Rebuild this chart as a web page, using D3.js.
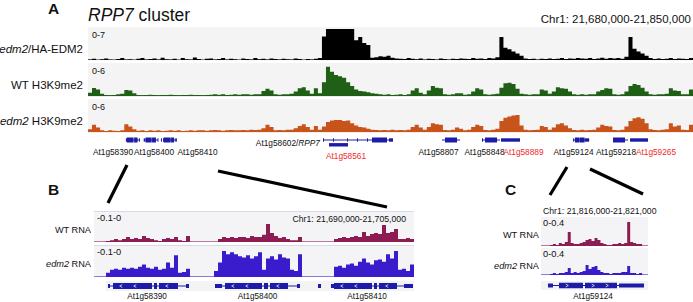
<!DOCTYPE html>
<html><head><meta charset="utf-8">
<script src="https://cdn.jsdelivr.net/npm/d3@7/dist/d3.min.js"></script>
<style>html,body{margin:0;padding:0;background:#fff}svg{display:block}text{white-space:pre}</style>
</head><body>
<svg id="fig" width="693" height="302"></svg>
<script>
// ================= DATA =================
const regionA = [21680000, 21850000];
const regionB = [21690000, 21705000];
const regionC = [21816000, 21821000];
const coordLabelA = "Chr1: 21,680,000-21,850,000";
const coordLabelB = "Chr1: 21,690,000-21,705,000";
const coordLabelC = "Chr1: 21,816,000-21,821,000";

// Panel A: ChIP coverage, 150 bins over regionA (value per bin)
const binsA = 150;
const trackNamesA = ["edm2/HA-EDM2", "WT H3K9me2", "edm2 H3K9me2"];
const trackMaxA = [7, 6, 6];
const rangeLabelsA = ["0-7", "0-6", "0-6"];
const edm2HA = [
 0.1,0.25,0.05,0.15,0.3,0.1,0.05,0.2,0.4,0.1,
 0.15,0.05,0.25,0.45,0.1,0.2,0.3,0.1,0.5,0.15,
 0.1,0.25,0.05,0.4,0.15,0.1,0.55,0.2,0.05,0.25,
 0.3,0.1,0.2,0.45,0.1,0.25,0.15,0.05,0.3,0.2,
 0.1,0.4,0.15,0.25,0.1,0.3,0.2,0.1,0.25,0.15,
 0.1,0.3,0.2,0.05,0.2,0.1,0.25,0.4,
 5.0,6.6,6.6,6.6,6.6,6.6,6.6,6.6,4.2,4.9,3.6,3.2,0.5,
 0.6,0.8,0.7,0.9,0.5,0.3,0.25,0.2,0.4,
 0.25,0.15,0.3,0.1,0.25,0.2,0.1,0.3,0.2,0.1,
 0.25,0.2,0.3,0.25,0.2,0.4,0.25,0.3,0.2,0.45,
 0.3,0.6,4.9,2.6,2.3,1.8,1.4,0.9,0.3,0.2,
 0.25,0.1,0.25,0.2,0.3,0.2,0.25,0.4,0.2,0.3,
 0.25,0.45,0.3,0.25,0.4,0.2,0.3,0.5,0.25,0.4,
 0.3,0.45,0.25,0.7,4.9,2.4,1.8,1.4,0.9,0.4,
 0.2,0.3,0.2,0.25,0.4,0.2,0.3,0.25,0.2,0.4,0.25];
const wtH3K9 = [
 0.6,1.45,1.2,0.4, 0.2,0.15,0.2,0.3, 0.4,1.1,1.0,0.5,
 0.2,0.15,0.2,0.25,0.2,0.15,0.2,0.2,0.25,0.2,
 0.15,0.2,0.2,0.25,0.2,0.2,0.15,0.2,0.25,0.3,
 0.25,0.3,0.2,0.25,0.3,0.25,0.3,0.3,0.25,0.3,0.3,
 0.9,1.3,1.0,0.3,0.25,0.3,0.3,0.4,
 0.8,1.4,1.6,1.0,0.4,1.4,0.5,
 2.5,5.3,4.4,3.8,3.6,3.3,2.5,1.8,1.2,0.9,0.8,0.7,0.5,0.4,
 0.3,0.25,0.3,0.2,0.25,0.3,0.2,0.3,1.0,1.4,0.6,0.3,
 1.0,1.8,1.5,1.4,0.3,0.25,0.3,0.5,0.5,0.25,0.3,
 0.8,1.4,1.2,0.3,0.25,0.3,0.4,
 1.5,2.3,2.4,2.2,1.3,0.4,0.3,0.25,0.3,0.3,
 1.2,1.0,0.4,0.8,1.6,1.4,1.3,0.8,
 0.3,0.25,0.3,0.25,0.3,0.3,0.8,1.1,1.4,1.3,0.3,0.25,0.3,
 0.8,1.8,2.2,2.0,1.5,0.8,0.3,0.25,0.3,0.3,0.4,
 1.4,1.0,0.9,0.3,0.3,1.2,0.8];
const edm2H3K9 = [
 0.5,1.3,0.8,0.3, 0.2,0.3,0.25,0.2,0.3, 1.4,1.0,0.5,
 0.25,0.3,0.2,0.3,0.25,0.3,0.2,0.25,0.3,0.25,
 0.3,0.2,0.25,0.3,0.25,0.3,0.3,0.25,0.3,0.35,
 0.3,0.25,0.3,0.35,0.3,0.3,0.35,0.3,0.4,0.35,0.4,
 0.7,1.3,0.9,0.3,0.35,0.3,0.4,0.4,
 0.7,1.1,1.4,0.9,0.4,1.1,0.4,
 1.0,1.8,2.1,2.2,2.2,2.0,2.1,1.6,1.2,0.9,0.8,0.6,0.4,
 0.35,0.3,0.35,0.3,0.4,0.3,0.35,0.3,0.4,0.9,1.3,0.8,0.4,
 0.9,1.6,1.4,1.3,0.35,0.3,0.4,0.8,0.6,0.3,0.4,
 0.9,1.3,1.1,0.35,0.3,0.4,
 0.6,2.0,2.6,2.8,3.0,3.1,1.2,0.4,0.3,0.35,0.4,
 1.1,0.9,0.4,0.8,1.4,1.6,1.2,0.7,
 0.35,0.3,0.4,0.3,0.35,0.4,0.8,1.3,1.1,1.0,0.35,0.3,0.4,
 1.0,2.0,2.5,2.7,2.4,1.6,0.5,0.35,0.3,0.4,0.5,
 1.6,1.0,1.2,0.4,0.35,1.3,1.0];

// Panels B / C: RNA-seq coverage
const trackNamesRNA = ["WT RNA", "edm2 RNA"];
const rangeLabelsB = ["-0.1-0", "-0.1-0"];
const maxB = 0.1;
const wtRnaB = [
 0,0,0,0.003,0.006,0.010,0.006,0.010,0.016,0.010,
 0.013,0.010,0.019,0.013,0.010,0.006,0.003,0.010,0.013,0.010,
 0.016,0.006,0.003,0.019,0,0,0,0,0,0,
 0,0.010,0.016,0.013,0.016,0.013,0.016,0.016,0.013,0.019,
 0.016,0.016,0.023,0.058,0.029,0.019,0.013,0.016,0.010,0.006,
 0.006,0.016,0,0,0,0,0,0,0,0,
 0.010,0.013,0.016,0.013,0.016,0.019,0.016,0.032,0.019,0.026,
 0.029,0.026,0.055,0.029,0.032,0.042,0.010,0.010,0.013,0.010];
const edm2RnaB = [
 0,0,0,0.013,0.023,0.026,0.023,0.029,0.026,0.029,
 0.026,0.032,0.039,0.029,0.026,0.032,0.023,0.026,0.045,0.029,
 0.068,0.013,0.016,0.026,0,0,0,0,0,0,
 0.019,0.045,0.081,0.071,0.077,0.071,0.065,0.061,0.068,0.058,
 0.065,0.077,0.023,0.058,0.065,0.055,0.071,0.061,0.058,0.023,
 0.019,0.071,0,0,0,0,0,0,0,0,
 0.032,0.035,0.029,0.039,0.042,0.035,0.048,0.058,0.045,0.039,
 0.052,0.055,0.048,0.071,0.058,0.081,0.023,0.026,0.019,0.039];
const rangeLabelsC = ["0-0.4", "0-0.4"];
const maxC = 0.4;
const wtRnaC = [
 0,0,0,0.014,0.028,0.014,0.041,0.028,0.055,0.193,
 0.041,0.028,0.028,0.041,0.055,0.083,0.097,0.069,0.110,0.083,
 0.041,0.028,0.014,0.014,0.028,0.028,0.041,0.028,0.041,0.331,
 0.055,0.041,0.028,0.028,0,0];
const edm2RnaC = [
 0,0,0,0.015,0.030,0.015,0.030,0.030,0.044,0.104,
 0.030,0.044,0.030,0.044,0.059,0.148,0.089,0.119,0.133,0.074,
 0.044,0.030,0.030,0.015,0.030,0.030,0.030,0.044,0.044,0.133,
 0.030,0.030,0.015,0.030,0,0];

// Gene annotation (genomic coordinates); exon type: cds / utr
const geneNames = ["At1g58390","At1g58400","","At1g58410","At1g58602/RPP7","At1g58561",
  "At1g58807","At1g58848","At1g58889","At1g59124","At1g59218","At1g59265"];
const geneStrand = ["-","-","-","-","+","+","+","+","+","+","+","+"];
const geneSpan = [
 [21690656,21694453],[21695672,21699656],[21700500,21700641],[21701109,21704953],
 [21746035,21765705],[21747721,21753060],[21779474,21784532],[21790714,21795772],
 [21796053,21801392],[21816327,21820813],[21827525,21831740],[21832302,21837360]];
const geneExons = [
 [[21690656,21690750,"utr"],[21690891,21692719,"cds"],[21692813,21692953,"cds"],[21693047,21693938,"cds"],[21694313,21694453,"utr"]],
 [[21695672,21696000,"utr"],[21696141,21697875,"cds"],[21697969,21698156,"cds"],[21698250,21699094,"cds"],[21699516,21699656,"utr"]],
 [[21700500,21700641,"utr"]],
 [[21701109,21701250,"utr"],[21701250,21703031,"cds"],[21703125,21703266,"cds"],[21703359,21704203,"cds"],[21704531,21704953,"utr"]],
 [[21746035,21746316,"utr"],[21748845,21749126,"utr"],[21752779,21753060,"utr"],[21755589,21755870,"utr"],[21758399,21758680,"utr"],[21759804,21764019,"cds"],[21764581,21765705,"utr"]],
 [[21747721,21753060,"utr"]],
 [[21780317,21783689,"cds"]],
 [[21790714,21790995,"utr"],[21791557,21794929,"cds"]],
 [[21796053,21801392,"utr"]],
 [[21816327,21816561,"utr"],[21816841,21817963,"cds"],[21818056,21819551,"cds"],[21819645,21820813,"utr"]],
 [[21827525,21830897,"cds"]],
 [[21832302,21837360,"utr"]]];
const highlightedGenes = ["At1g58561","At1g58889","At1g59265"];
const lowerRowGenes = ["At1g58561"];

// ================= LAYOUT =================
const FONT = '"Liberation Sans", Arial, Helvetica, sans-serif';
const BLUE = "#1c1ca8";
const RED = "#f02a2a";
const colA = ["#000000", "#1f5f16", "#c8531b"];
const colRNA = ["#8c1c52", "#3a1ccc"];
const A = {x0: 88, x1: 693, tracks: [[27,60],[63,96],[99,132]], geneY: 140, geneY2: 144.8};
const B = {x0: 94, x1: 414, tracks: [[211,242],[245,277]], geneRow: [281,291], geneY: 286};
const C = {x0: 541, x1: 648, tracks: [[217,246],[248,275]], geneRow: [281,290], geneY: 285.5};
const labelLayoutA = {
 "At1g58390":[113,154.5,"middle"], "At1g58400":[154,154.5,"middle"], "At1g58410":[197.5,154.5,"middle"],
 "At1g58602/RPP7":[320,146,"end"], "At1g58561":[346,158.5,"middle"],
 "At1g58807":[438.5,154.5,"middle"], "At1g58848":[484.5,154.5,"middle"], "At1g58889":[523.5,154.5,"middle"],
 "At1g59124":[573.5,154.5,"middle"], "At1g59218":[616,154.5,"middle"], "At1g59265":[656,154.5,"middle"]};
const labelLayoutB = {"At1g58390":147, "At1g58400":257.5, "At1g58410":367};

const svg = d3.select("#fig");
const defs = svg.append("defs");

function rich(sel, str) {
  const m = str.match(/^(edm2)(.*)$/);
  if (m) { sel.append("tspan").attr("font-style","italic").text(m[1]); sel.append("tspan").text(m[2]); return sel; }
  const r = str.match(/^(.*\/)(RPP7)$/);
  if (r) { sel.append("tspan").text(r[1]); sel.append("tspan").attr("font-style","italic").text(r[2]); return sel; }
  sel.text(str); return sel;
}
function txt(x, y, str, size, opts = {}) {
  const t = svg.append("text").attr("x", x).attr("y", y).attr("font-family", FONT)
    .attr("font-size", size).attr("fill", opts.fill || "#111")
    .attr("text-anchor", opts.anchor || "start");
  if (opts.weight) t.attr("font-weight", opts.weight);
  return rich(t, str);
}
let clipN = 0;
function clipRect(x0, x1, y0, y1) {
  const id = "cl" + (clipN++);
  defs.append("clipPath").attr("id", id).append("rect").attr("x", x0).attr("y", y0).attr("width", x1 - x0).attr("height", y1 - y0);
  return "url(#" + id + ")";
}
function coverage(values, nBins, region, xs, top, bottom, max, color, x0, x1) {
  const bp = (region[1] - region[0]) / nBins;
  const y = d3.scaleLinear().domain([0, max]).range([bottom, top]).clamp(true);
  const pts = values.map((v, i) => [region[0] + i * bp, v]);
  pts.push([region[0] + values.length * bp, values[values.length - 1]]);
  const area = d3.area().x(d => xs(d[0])).y0(bottom).y1(d => y(d[1])).curve(d3.curveStepAfter);
  svg.append("path").datum(pts).attr("d", area).attr("fill", color)
    .attr("clip-path", clipRect(x0, x1, top - 1, bottom + 1));
}
function drawGenes(xs, x0, x1, cy, hCds, hUtr, chevrons, onlyNames, cy2) {
  const g = svg.append("g").attr("clip-path", clipRect(x0, x1, cy - 10, cy + 12));
  geneNames.forEach((name, gi) => {
    if (onlyNames && !onlyNames.includes(name)) return;
    const yC = (cy2 && lowerRowGenes.includes(name)) ? cy2 : cy;
    const sp = geneSpan[gi];
    g.append("line").attr("x1", xs(sp[0])).attr("x2", xs(sp[1])).attr("y1", yC).attr("y2", yC)
      .attr("stroke", BLUE).attr("stroke-width", 1);
    geneExons[gi].forEach(e => {
      const h = e[2] === "cds" ? hCds : hUtr;
      const a = xs(e[0]), b = xs(e[1]);
      g.append("rect").attr("x", a).attr("y", yC - h / 2).attr("width", Math.max(1, b - a)).attr("height", h).attr("fill", BLUE);
      if (chevrons && e[2] === "cds" && b - a > 12) {
        for (let cx = a + 8; cx < b - 4; cx += 14) {
          const d = geneStrand[gi] === "-" ? 1 : -1;
          g.append("path").attr("d", `M${cx + d * 1.3},${yC - 1.5}L${cx - d * 1.3},${yC}L${cx + d * 1.3},${yC + 1.5}`)
            .attr("fill", "none").attr("stroke", "#fff").attr("stroke-width", 0.7);
        }
      }
    });
  });
}

// ================= PANEL A =================
txt(48, 14, "A", 15.5, {weight: "bold"});
{
  const t = svg.append("text").attr("x", 88).attr("y", 20.5).attr("font-family", FONT).attr("font-size", 17.5).attr("fill", "#111");
  t.append("tspan").attr("font-style", "italic").text("RPP7");
  t.append("tspan").text(" cluster");
}
txt(691, 23, coordLabelA, 11.5, {anchor: "end"});
const xA = d3.scaleLinear().domain(regionA).range([A.x0, A.x1]);
const seriesA = [edm2HA, wtH3K9, edm2H3K9];
A.tracks.forEach(([top, bottom], i) => {
  svg.append("rect").attr("x", A.x0).attr("y", top).attr("width", A.x1 - A.x0).attr("height", bottom - top + 0.5).attr("fill", "#f4f4f4");
  svg.append("line").attr("x1", A.x0).attr("x2", A.x1).attr("y1", bottom - 0.4).attr("y2", bottom - 0.4)
    .attr("stroke", colA[i]).attr("stroke-width", i === 0 ? 0.5 : 0.8).attr("opacity", i === 0 ? 0.6 : 1);
  coverage(seriesA[i], binsA, regionA, xA, top, bottom, trackMaxA[i], colA[i], A.x0, A.x1);
  txt(A.x0 + 4, top + 11, rangeLabelsA[i], 9);
  txt(83, bottom - 7.5, trackNamesA[i], 11.5, {anchor: "end"});
});
drawGenes(xA, A.x0, A.x1, A.geneY, 5, 3.4, false, null, A.geneY2);
geneNames.forEach(n => {
  const L = labelLayoutA[n]; if (!L) return;
  txt(L[0], L[1], n, 8.3, {anchor: L[2], fill: highlightedGenes.includes(n) ? RED : "#111"});
});

// connectors between panels
const connectors = [[127,165,108,203],[218,171,387,207],[567,167,550,195],[590,169,643,194]];
connectors.forEach(c => svg.append("line").attr("x1", c[0]).attr("y1", c[1]).attr("x2", c[2]).attr("y2", c[3])
  .attr("stroke", "#000").attr("stroke-width", 3.2));

// ================= PANEL B =================
txt(48, 195, "B", 15.5, {weight: "bold"});
const xB = d3.scaleLinear().domain(regionB).range([B.x0, B.x1]);
const seriesB = [wtRnaB, edm2RnaB];
B.tracks.forEach(([top, bottom], i) => {
  svg.append("rect").attr("x", B.x0).attr("y", top).attr("width", B.x1 - B.x0).attr("height", bottom - top).attr("fill", "#f4f4f6");
  svg.append("line").attr("x1", B.x0).attr("x2", B.x1).attr("y1", top + 0.5).attr("y2", top + 0.5).attr("stroke", "#d8d8ee").attr("stroke-width", 1);
  svg.append("line").attr("x1", B.x0).attr("x2", B.x1).attr("y1", bottom - 0.5).attr("y2", bottom - 0.5).attr("stroke", colRNA[i]).attr("stroke-width", 0.8).attr("opacity", 0.7);
  coverage(seriesB[i], seriesB[i].length, regionB, xB, top, bottom, maxB, colRNA[i], B.x0, B.x1);
  txt(B.x0 + 3, top + 9.5, rangeLabelsB[i], 9.3);
  txt(91, top + 22, trackNamesRNA[i], 9.2, {anchor: "end"});
});
txt(406, 222, coordLabelB, 8.7, {anchor: "end"});
svg.append("rect").attr("x", B.x0 + 12).attr("y", B.geneRow[0]).attr("width", B.x1 - B.x0 - 12).attr("height", B.geneRow[1] - B.geneRow[0]).attr("fill", "#f3f3f3");
drawGenes(xB, B.x0, B.x1, B.geneY, 6, 4, true, ["At1g58390","At1g58400","","At1g58410"]);
Object.keys(labelLayoutB).forEach(n => txt(labelLayoutB[n], 298.5, n, 8.2, {anchor: "middle"}));

// ================= PANEL C =================
txt(505, 195, "C", 15.5, {weight: "bold"});
txt(543, 214, coordLabelC, 8.7);
const xC = d3.scaleLinear().domain(regionC).range([C.x0, C.x1]);
const seriesC = [wtRnaC, edm2RnaC];
C.tracks.forEach(([top, bottom], i) => {
  svg.append("rect").attr("x", C.x0).attr("y", top).attr("width", C.x1 - C.x0).attr("height", bottom - top).attr("fill", "#f4f4f6");
  svg.append("line").attr("x1", C.x0).attr("x2", C.x1).attr("y1", bottom - 0.5).attr("y2", bottom - 0.5).attr("stroke", colRNA[i]).attr("stroke-width", 0.8).attr("opacity", 0.7);
  coverage(seriesC[i], seriesC[i].length, regionC, xC, top, bottom, maxC, colRNA[i], C.x0, C.x1);
  txt(C.x0 + 2, top + 8.5, rangeLabelsC[i], 9.3);
  txt(539, top + 21, trackNamesRNA[i], 9.2, {anchor: "end"});
});
svg.append("rect").attr("x", C.x0).attr("y", C.geneRow[0]).attr("width", C.x1 - C.x0).attr("height", C.geneRow[1] - C.geneRow[0]).attr("fill", "#f3f3f3");
drawGenes(xC, C.x0, C.x1, C.geneY, 5.5, 4, true, ["At1g59124"]);
txt(593, 299, "At1g59124", 8.2, {anchor: "middle"});
</script>
</body></html>
